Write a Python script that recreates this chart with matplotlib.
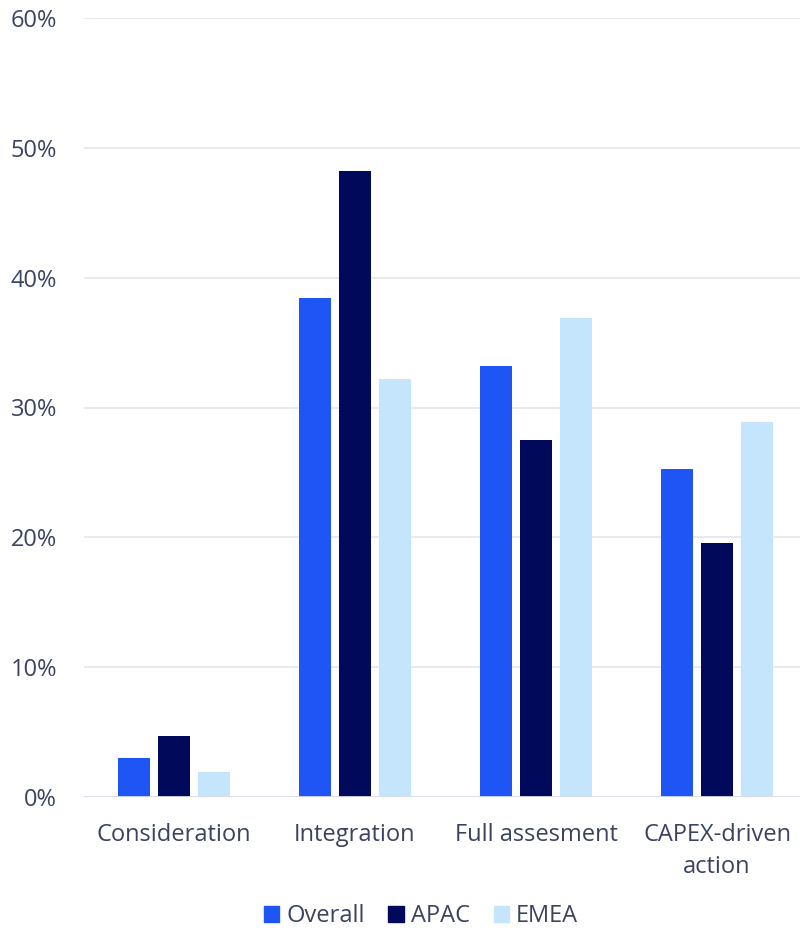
import numpy as np
import matplotlib.pyplot as plt
from matplotlib.patches import Patch

plt.rcParams['font.family'] = ['Open Sans', 'DejaVu Sans']

categories = ['Consideration', 'Integration', 'Full assesment', 'CAPEX-driven\naction']
series = ['Overall', 'APAC', 'EMEA']
overall = [3.0, 38.4, 33.2, 25.3]
apac = [4.7, 48.2, 27.5, 19.6]
emea = [1.9, 32.2, 36.9, 28.9]
colors = ['#1F55F4', '#010A5A', '#C5E5FD']
text_color = '#3A4460'

fig = plt.figure(figsize=(8, 9.32), dpi=100)
ax = fig.add_axes([83.5 / 800, 135 / 932, (800 - 83.5) / 800, (797 - 18) / 932])

x = np.arange(len(categories))
width = 0.177
step = 0.221
for i, (vals, name) in enumerate(zip([overall, apac, emea], series)):
    ax.bar(x + (i - 1) * step, vals, width, color=colors[i], label=name, zorder=3)

ax.set_ylim(0, 60)
ax.set_xlim(-0.5, -0.5 + 716.5 / 181)
ax.set_yticks(np.arange(0, 61, 10))
ax.set_yticklabels([f'{v}%' for v in range(0, 61, 10)])
ax.set_xticks(x)
ax.set_xticklabels(categories, linespacing=1.45)
ax.grid(axis='y', color='#E3E6EE', linewidth=1.2, zorder=0)
for s in ax.spines.values():
    s.set_visible(False)
ax.axhline(0, color='#D9DDE8', linewidth=2, zorder=4)
ax.tick_params(axis='both', length=0, labelsize=17, colors=text_color)
ax.tick_params(axis='y', pad=19)
ax.tick_params(axis='x', pad=19)

handles = [Patch(color=c, label=n) for c, n in zip(colors, series)]
fig.legend(handles=handles, loc='center', bbox_to_anchor=(421 / 800, 1 - 916 / 932),
           ncol=3, frameon=False, fontsize=17, labelcolor=text_color,
           handlelength=0.65, handleheight=0.65, handletextpad=0.3, columnspacing=1.0,
           borderpad=0.1)

fig.savefig('out.png', dpi=100)
